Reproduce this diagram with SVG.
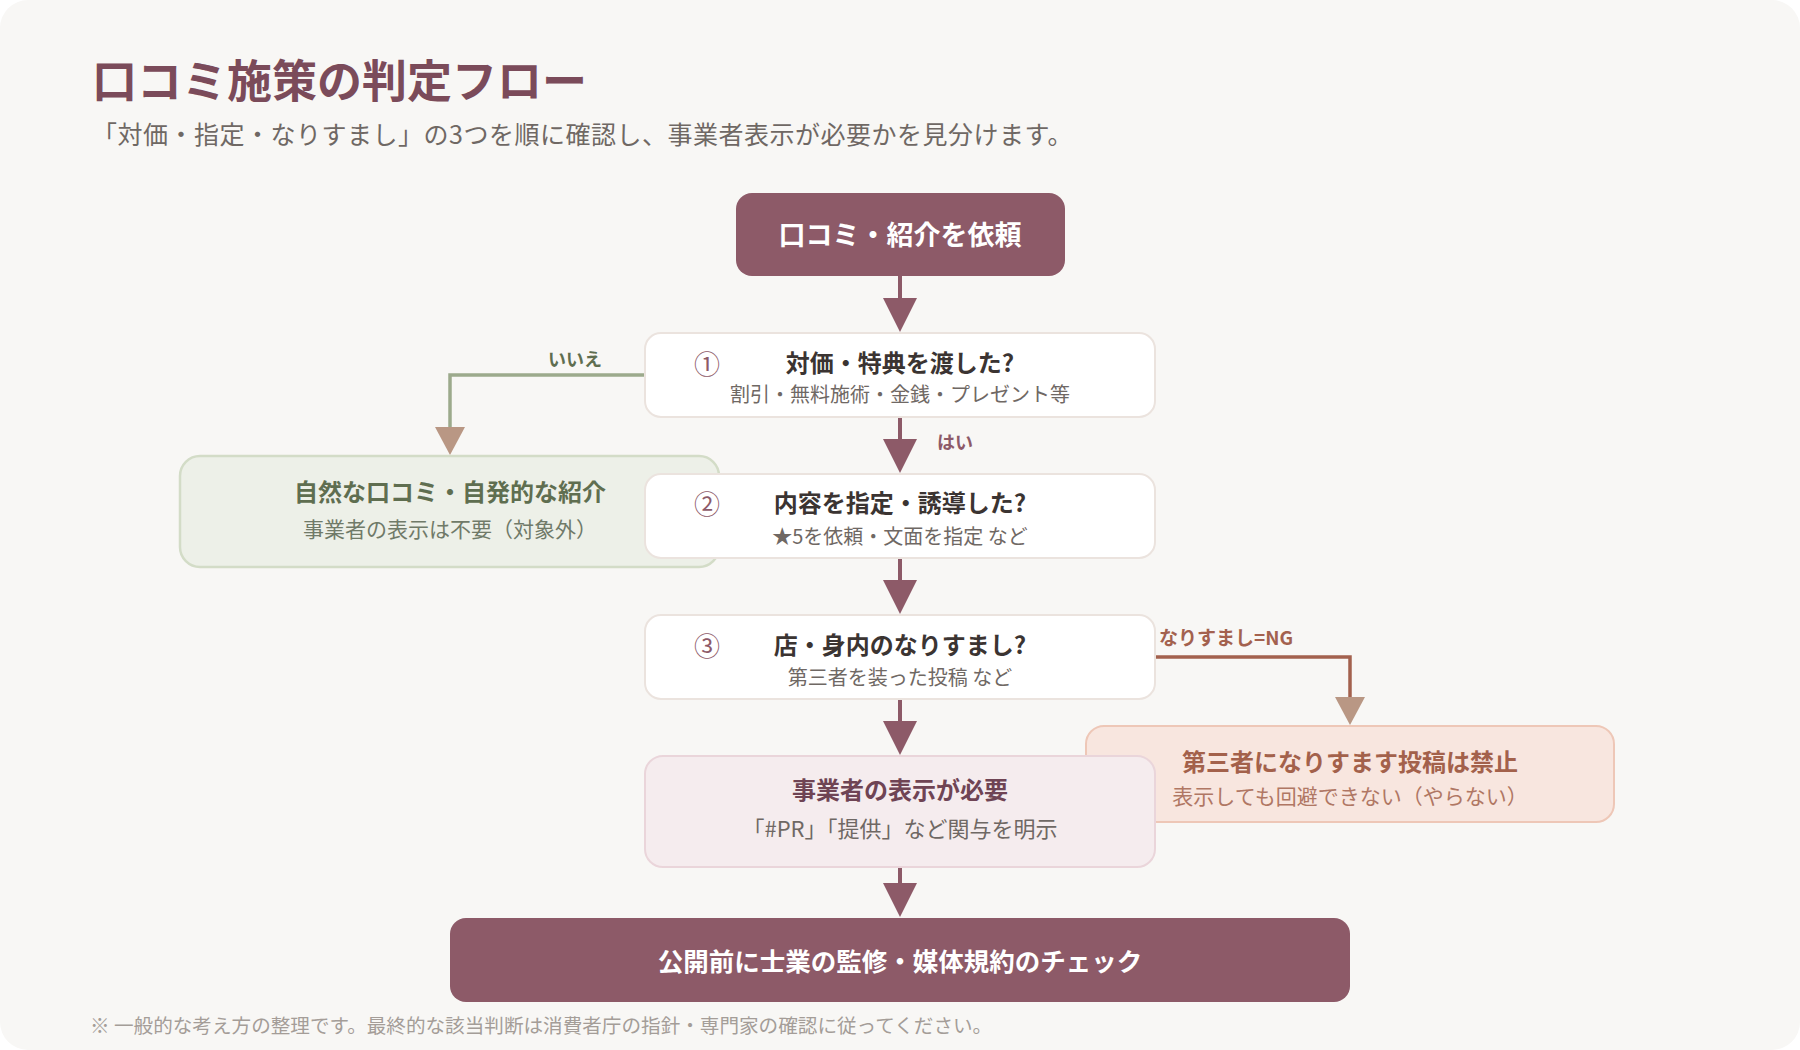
<svg xmlns="http://www.w3.org/2000/svg" width="1800" height="1050" viewBox="0 0 1800 1050">
<defs>
<style>
text{font-family:"Noto Sans CJK JP","Noto Sans",sans-serif;}
.title{font-size:45px;font-weight:700;fill:#7b4b5a;}
.subtitle{font-size:25px;letter-spacing:0.5px;fill:#6f6864;}
.foot{font-size:19.6px;fill:#a49d98;}
.q{fill:#ffffff;stroke:#ebe3de;stroke-width:2;}
.qt{font-size:24px;font-weight:700;fill:#3b3432;text-anchor:middle;dominant-baseline:central;}
.qs{font-size:20px;fill:#6f6864;text-anchor:middle;dominant-baseline:central;}
.rs{font-size:21px;text-anchor:middle;dominant-baseline:central;}
.num{font-size:26px;fill:#8d5a68;text-anchor:middle;dominant-baseline:central;}
.dark{fill:#8d5a68;}
.wt{font-weight:700;fill:#ffffff;text-anchor:middle;dominant-baseline:central;}
.main{fill:none;stroke:#8d5a68;stroke-width:4;}
.lbl{font-size:18px;font-weight:700;dominant-baseline:central;}
</style>
<marker id="ahMain" markerUnits="userSpaceOnUse" markerWidth="34" markerHeight="34" refX="0" refY="17" orient="auto" viewBox="0 0 34 34">
<path d="M0,0 L34,17 L0,34 Z" fill="#8d5a68"/>
</marker>
<marker id="ahSide" markerUnits="userSpaceOnUse" markerWidth="28" markerHeight="30" refX="0" refY="15" orient="auto" viewBox="0 0 28 30">
<path d="M0,0 L28,15 L0,30 Z" fill="#b99784"/>
</marker>
</defs>
<rect x="0" y="0" width="1800" height="1050" rx="28" fill="#f8f7f5"/>
<text class="title" x="92" y="78" dominant-baseline="central">口コミ施策の判定フロー</text>
<text class="subtitle" x="92" y="133" dominant-baseline="central">「対価・指定・なりすまし」の3つを順に確認し、事業者表示が必要かを見分けます。</text>

<g id="connectors">
<path class="main" d="M900,276 V298" marker-end="url(#ahMain)"/>
<path class="main" d="M900,417 V439" marker-end="url(#ahMain)"/>
<path class="main" d="M900,558 V580" marker-end="url(#ahMain)"/>
<path class="main" d="M900,699 V721" marker-end="url(#ahMain)"/>
<path class="main" d="M900,867 V883" marker-end="url(#ahMain)"/>
<path d="M645,375 H450 V427" fill="none" stroke="#9caa8c" stroke-width="3.5" marker-end="url(#ahSide)"/>
<path d="M1155,657 H1350 V697" fill="none" stroke="#a3614e" stroke-width="3.5" marker-end="url(#ahSide)"/>
<text class="lbl" x="937" y="441" fill="#8d5a68">はい</text>
<text class="lbl" x="575" y="358" fill="#5f6e50" text-anchor="middle">いいえ</text>
<text class="lbl" x="1159" y="636" fill="#a3614e" style="font-size:19px">なりすまし=NG</text>
</g>

<g id="node-start">
<rect class="dark" x="736" y="193" width="329" height="83" rx="16"/>
<text class="wt" x="900" y="233" font-size="27">口コミ・紹介を依頼</text>
</g>

<g id="node-q1">
<rect class="q" x="645" y="333" width="510" height="84" rx="16"/>
<text class="num" x="707" y="362">①</text>
<text class="qt" x="900" y="361">対価・特典を渡した?</text>
<text class="qs" x="900" y="393">割引・無料施術・金銭・プレゼント等</text>
</g>

<g id="node-natural">
<rect x="180" y="456" width="539" height="111" rx="20" fill="#edf0e8" stroke="#d3dcc7" stroke-width="2.5"/>
<text x="450" y="490" font-size="24" font-weight="700" fill="#5f6e50" text-anchor="middle" dominant-baseline="central">自然な口コミ・自発的な紹介</text>
<text class="rs" x="450" y="528" fill="#707a68">事業者の表示は不要（対象外）</text>
</g>

<g id="node-q2">
<rect class="q" x="645" y="474" width="510" height="84" rx="16"/>
<text class="num" x="707" y="502">②</text>
<text class="qt" x="900" y="501">内容を指定・誘導した?</text>
<text class="qs" x="900" y="535">★5を依頼・文面を指定 など</text>
</g>

<g id="node-q3">
<rect class="q" x="645" y="615" width="510" height="84" rx="16"/>
<text class="num" x="707" y="644">③</text>
<text class="qt" x="900" y="643">店・身内のなりすまし?</text>
<text class="qs" x="900" y="676">第三者を装った投稿 など</text>
</g>

<g id="node-ng">
<rect x="1086" y="726" width="528" height="96" rx="18" fill="#f8e6df" stroke="#eec7b7" stroke-width="2"/>
<text x="1350" y="760" font-size="24" font-weight="700" fill="#a3614b" text-anchor="middle" dominant-baseline="central">第三者になりすます投稿は禁止</text>
<text class="rs" x="1350" y="795" fill="#b07764">表示しても回避できない（やらない）</text>
</g>

<g id="node-disclose">
<rect x="645" y="756" width="510" height="111" rx="18" fill="#f5ecee" stroke="#ead5da" stroke-width="2"/>
<text x="900" y="788" font-size="24" font-weight="700" fill="#6f4454" text-anchor="middle" dominant-baseline="central">事業者の表示が必要</text>
<text class="rs" x="900" y="827" fill="#6f6864" style="font-size:22px">「#PR」「提供」など関与を明示</text>
</g>

<g id="node-final">
<rect class="dark" x="450" y="918" width="900" height="84" rx="16"/>
<text class="wt" x="900" y="959" font-size="25.5">公開前に士業の監修・媒体規約のチェック</text>
</g>

<text class="foot" x="90" y="1024" dominant-baseline="central">※ 一般的な考え方の整理です。最終的な該当判断は消費者庁の指針・専門家の確認に従ってください。</text>
</svg>
